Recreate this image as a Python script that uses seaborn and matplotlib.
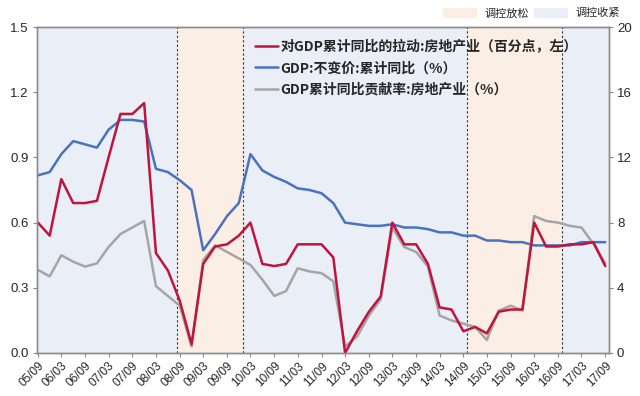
import pandas as pd
import seaborn as sns
import matplotlib.pyplot as plt
import matplotlib.dates as mdates
from matplotlib.patches import Patch

# 季度数据 2005Q3 - 2017Q3
dates = pd.date_range('2005-09-01', '2017-09-01', freq='QS-MAR')

# 对GDP累计同比的拉动:房地产业（百分点，左）
pull = [0.60, 0.54, 0.80, 0.69, 0.69, 0.70, 0.90, 1.10, 1.10, 1.15,
        0.46, 0.38, 0.24, 0.04, 0.41, 0.49, 0.50, 0.54, 0.60, 0.41,
        0.40, 0.41, 0.50, 0.50, 0.50, 0.44, 0.00, 0.10, 0.19, 0.26,
        0.60, 0.50, 0.50, 0.41, 0.21, 0.20, 0.10, 0.12, 0.09, 0.19,
        0.20, 0.20, 0.60, 0.49, 0.49, 0.50, 0.50, 0.51, 0.40]
# GDP:不变价:累计同比（%）
gdp = [10.9, 11.1, 12.2, 13.0, 12.8, 12.6, 13.7, 14.3, 14.3, 14.2,
       11.3, 11.1, 10.6, 10.0, 6.3, 7.3, 8.4, 9.2, 12.2, 11.2,
       10.8, 10.5, 10.1, 10.0, 9.8, 9.2, 8.0, 7.9, 7.8, 7.8,
       7.9, 7.7, 7.7, 7.6, 7.4, 7.4, 7.2, 7.2, 6.9, 6.9,
       6.8, 6.8, 6.6, 6.6, 6.6, 6.6, 6.8, 6.8, 6.8]
# GDP累计同比贡献率:房地产业（%）
contrib = [5.1, 4.7, 6.0, 5.6, 5.3, 5.5, 6.5, 7.3, 7.7, 8.1,
           4.1, 3.5, 2.9, 0.4, 5.7, 6.6, 6.2, 5.8, 5.4, 4.5,
           3.5, 3.8, 5.2, 5.0, 4.9, 4.4, 0.4, 1.0, 2.3, 3.3,
           7.7, 6.5, 6.2, 5.3, 2.3, 2.0, 1.8, 1.6, 0.8, 2.6,
           2.9, 2.6, 8.4, 8.1, 8.0, 7.8, 7.7, 6.7, 5.5]

# 调控放松区间
easing = [('2008-08-08', '2010-01-01'), ('2014-10-01', '2016-10-01')]

df = pd.DataFrame({'date': dates, 'pull': pull, 'gdp': gdp, 'contrib': contrib})

sns.set_style('white')
plt.rcParams['font.family'] = ['Noto Sans CJK SC', 'DejaVu Sans']
plt.rcParams['axes.unicode_minus'] = False

fig = plt.figure(figsize=(6.4, 3.96), dpi=100)
ax = fig.add_axes([0.058, 0.1086, 0.893, 0.8232])
ax2 = ax.twinx()

c_loose = '#FBEEE4'
c_tight = '#E9EEF7'
xmin, xmax = pd.Timestamp('2005-08-26'), pd.Timestamp('2017-09-27')
ax2.axvspan(xmin, xmax, color=c_tight, zorder=0, lw=0)
for s, e in easing:
    ax2.axvspan(pd.Timestamp(s), pd.Timestamp(e), color=c_loose, zorder=0.5, lw=0)
    for d in (s, e):
        ax2.axvline(pd.Timestamp(d), color='#333333', ls=(0, (2, 2)), lw=0.8, zorder=0.6)

sns.lineplot(data=df, x='date', y='gdp', ax=ax2, color='#4A72BE', lw=1.8,
             label='GDP:不变价:累计同比（%）', legend=False)
sns.lineplot(data=df, x='date', y='contrib', ax=ax2, color='#A5A5A5', lw=1.8,
             label='GDP累计同比贡献率:房地产业（%）', legend=False)
sns.lineplot(data=df, x='date', y='pull', ax=ax, color='#C0143C', lw=1.8,
             label='对GDP累计同比的拉动:房地产业（百分点，左）', legend=False)

ax.set_zorder(ax2.get_zorder() + 1)
ax.patch.set_visible(False)

ax.set_xlim(xmin, xmax)
ax.set_ylim(0, 1.5)
ax2.set_ylim(0, 20)
ax.set_yticks([0.0, 0.3, 0.6, 0.9, 1.2, 1.5])
ax.set_yticklabels(['0.0', '0.3', '0.6', '0.9', '1.2', '1.5'])
ax2.set_yticks([0, 4, 8, 12, 16, 20])
ax.set_xlabel('')
ax.set_ylabel('')
ax2.set_ylabel('')

ax.xaxis.set_major_locator(mdates.MonthLocator(bymonth=[3, 9]))
ax.xaxis.set_major_formatter(mdates.DateFormatter('%y/%m'))
plt.setp(ax.get_xticklabels(), rotation=45, ha='right', rotation_mode='anchor',
         fontsize=8.5, family=['Liberation Sans'])
plt.setp(ax.get_yticklabels(), fontsize=9.5, family=['Liberation Sans'])
plt.setp(ax2.get_yticklabels(), fontsize=9.5, family=['Liberation Sans'])
ax.tick_params(axis='x', length=3, width=0.8, color='#888888', pad=2, bottom=True)
ax.tick_params(axis='y', length=3, width=0.8, color='#888888', left=True, pad=3)
ax2.tick_params(axis='y', length=3, width=0.8, color='#888888', right=True, pad=3)

for a in (ax, ax2):
    for sp in a.spines.values():
        sp.set_color('#8C8C8C')
        sp.set_linewidth(1.0)

h1, l1 = ax.get_legend_handles_labels()
h2, l2 = ax2.get_legend_handles_labels()
ax.legend(h1 + h2, l1 + l2, loc='upper left', bbox_to_anchor=(0.36, 1.0),
          frameon=False, handlelength=1.6, handletextpad=0.2, labelspacing=0.55,
          prop={'size': 10, 'weight': 'bold'})

fig.legend(handles=[Patch(color=c_loose), Patch(color=c_tight)],
           labels=['调控放松', '调控收紧'], loc='upper right',
           bbox_to_anchor=(0.985, 1.005), ncol=2, frameon=False,
           handlelength=3.0, handleheight=0.9, handletextpad=0.8,
           columnspacing=0.4, prop={'size': 8})

fig.savefig('out.png', dpi=100)
